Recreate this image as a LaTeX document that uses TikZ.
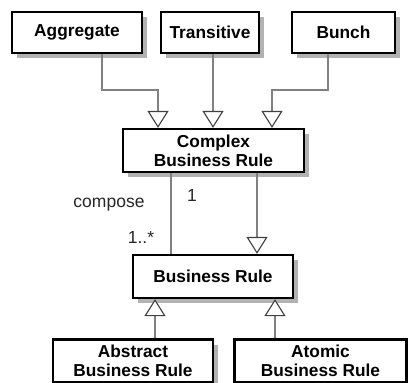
\documentclass[tikz,border=0pt]{standalone}
\usepackage{fontspec}
\setmainfont{Liberation Sans}
\usetikzlibrary{arrows.meta,shadows}
\tikzset{
  cls/.style={draw=black, line width=2.2pt, fill=white, inner sep=0pt, align=center,
    font=\fontsize{17.3}{19}\selectfont\bfseries,
    drop shadow={shadow xshift=5pt, shadow yshift=-5pt, fill=black!30, opacity=1}},
  conn/.style={draw=black!50, line width=1.6pt},
  gen/.style={conn, -{Triangle[open, length=17pt, width=21pt, line width=1.1pt, fill=white, color=black!75]}},
  lbl/.style={font=\fontsize{17.5}{19}\selectfont, inner sep=0pt, text=black!85}
}
\begin{document}
\begin{tikzpicture}[x=1pt,y=1pt]
\useasboundingbox (0,0) rectangle (408,-383);
\node[cls, minimum width=130pt, minimum height=41pt] (agg) at (77,-32.5) {Aggregate};
\node[cls, minimum width=98pt, minimum height=41pt] (tra) at (210,-32.5) {Transitive};
\node[cls, minimum width=103pt, minimum height=41pt] (bun) at (343.5,-32.5) {Bunch};
\node[cls, minimum width=181pt, minimum height=43pt] (cbr) at (213.5,-150.5) {Complex\\Business Rule};
\node[cls, minimum width=160pt, minimum height=43pt] (br) at (213,-276.5) {Business Rule};
\node[cls, minimum width=160pt, minimum height=43pt] (abr) at (133,-361) {Abstract\\Business Rule};
\node[cls, minimum width=172pt, minimum height=43pt] (atr) at (320.5,-361) {Atomic\\Business Rule};

\coordinate (a1) at (102,-90);
\coordinate (a2) at (158,-90);
\coordinate (b1) at (328,-90);
\coordinate (b2) at (272,-90);
\draw[gen] (agg.south -| a1) -- (a1) -- (a2) -- (a2 |- cbr.north);
\draw[gen] (tra.south -| 213,0) -- (cbr.north -| 213,0);
\draw[gen] (bun.south -| b1) -- (b1) -- (b2) -- (b2 |- cbr.north);

\draw[conn] (cbr.south -| 171,0) -- (br.north -| 171,0);
\draw[gen] (cbr.south -| 257,0) -- (br.north -| 257,0);

\draw[gen] (abr.north -| 155,0) -- (br.south -| 155,0);
\draw[gen] (atr.north -| 275,0) -- (br.south -| 275,0);

\node[lbl] (lc) at (109,-205) {compose};
\node[lbl] (l1) at (192,-195) {1};
\node[lbl] (l2) at (141,-237) {1..*};
\end{tikzpicture}
\end{document}
